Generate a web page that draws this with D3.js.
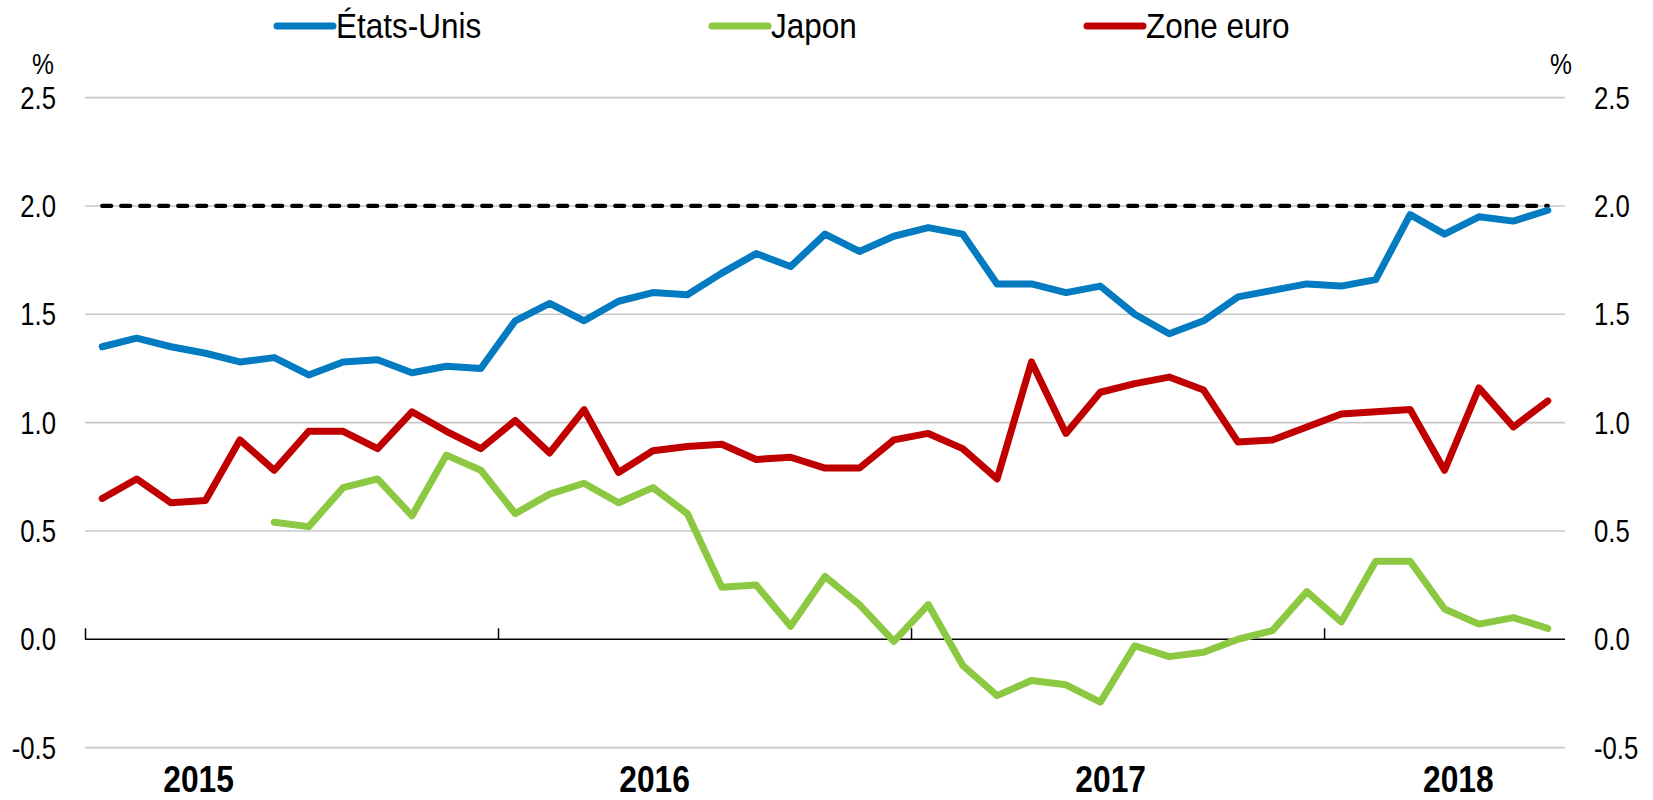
<!DOCTYPE html>
<html>
<head>
<meta charset="utf-8">
<script src="https://cdn.jsdelivr.net/npm/d3@7"></script>
<style>
  body { margin: 0; background: #fff; }
  svg { display: block; font-family: "Liberation Sans", Arial, sans-serif; }
</style>
</head>
<body>
<svg id="chart" width="1653" height="800"></svg>
<script>
// months Jan 2015 .. Jul 2018
var months = d3.timeMonth.range(new Date(2015, 0, 1), new Date(2018, 7, 1));

var etatsUnis = [1.35, 1.39, 1.35, 1.32, 1.28, 1.30, 1.22, 1.28, 1.29, 1.23, 1.26, 1.25,
  1.47, 1.55, 1.47, 1.56, 1.60, 1.59, 1.69, 1.78, 1.72, 1.87, 1.79, 1.86,
  1.90, 1.87, 1.64, 1.64, 1.60, 1.63, 1.50, 1.41, 1.47, 1.58, 1.61, 1.64,
  1.63, 1.66, 1.96, 1.87, 1.95, 1.93, 1.98];

var japon = [null, null, null, null, null, 0.54, 0.52, 0.70, 0.74, 0.57, 0.85, 0.78,
  0.58, 0.67, 0.72, 0.63, 0.70, 0.58, 0.24, 0.25, 0.06, 0.29, 0.16, -0.01,
  0.16, -0.12, -0.26, -0.19, -0.21, -0.29, -0.03, -0.08, -0.06, 0.00, 0.04, 0.22,
  0.08, 0.36, 0.36, 0.14, 0.07, 0.10, 0.05];

var zoneEuro = [0.65, 0.74, 0.63, 0.64, 0.92, 0.78, 0.96, 0.96, 0.88, 1.05, 0.96, 0.88,
  1.01, 0.86, 1.06, 0.77, 0.87, 0.89, 0.90, 0.83, 0.84, 0.79, 0.79, 0.92,
  0.95, 0.88, 0.74, 1.28, 0.95, 1.14, 1.18, 1.21, 1.15, 0.91, 0.92, 0.98,
  1.04, 1.05, 1.06, 0.78, 1.16, 0.98, 1.10];

var cible = 2.0;
var yTicks = [-0.5, 0, 0.5, 1, 1.5, 2, 2.5];
var yearTicks = [0, 12, 24, 36];
var years = ["2015", "2016", "2017", "2018"];
var yearLabelAt = [3.3, 16.55, 29.8, 39.9];

var series = [
  { name: "États-Unis", values: etatsUnis, color: "#037BC1" },
  { name: "Japon", values: japon, color: "#8CC841" },
  { name: "Zone euro", values: zoneEuro, color: "#C00000" }
];

var svg = d3.select("#chart");
var x = d3.scaleLinear().domain([0, months.length]).range([85, 1565]);
var y = d3.scaleLinear().domain([-0.5, 2.5]).range([747.6, 97.6]);

// condensed look: no narrow font installed, so squeeze horizontally
function label(g, px, py, txt, size, anchor, sx, bold) {
  return g.append("text")
    .attr("transform", "translate(" + px + "," + py + ") scale(" + sx + ",1)")
    .attr("text-anchor", anchor || "start")
    .attr("font-size", size)
    .attr("font-weight", bold ? "bold" : null)
    .text(txt);
}

// grid
svg.append("g").selectAll("line")
  .data(yTicks.filter(d => d !== 0)).enter().append("line")
  .attr("x1", x.range()[0]).attr("x2", x.range()[1])
  .attr("y1", d => y(d)).attr("y2", d => y(d))
  .attr("stroke", "#c8c8c8").attr("stroke-width", 1.6);

// y labels, both sides
var fmt = d => d3.format(".1f")(d).replace("\u2212", "-");
var yl = svg.append("g");
yTicks.forEach(function (d) {
  label(yl, 56, y(d) + 11, fmt(d), 31, "end", 0.83);
  label(yl, 1594, y(d) + 11, fmt(d), 31, "start", 0.83);
});
label(yl, 43, 74, "%", 29, "middle", 0.85);
label(yl, 1561, 74, "%", 29, "middle", 0.85);

// zero axis with year ticks
var xAxis = d3.axisBottom(x).tickValues(yearTicks).tickSize(-11).tickFormat("");
svg.append("g").attr("transform", "translate(0," + y(0) + ")").call(xAxis)
  .call(g => g.select(".domain").remove())
  .call(g => g.selectAll(".tick line").attr("stroke", "#000").attr("stroke-width", 1.5));
svg.append("line")
  .attr("x1", x.range()[0]).attr("x2", x.range()[1])
  .attr("y1", y(0)).attr("y2", y(0))
  .attr("stroke", "#000").attr("stroke-width", 1.6);

var xl = svg.append("g");
years.forEach(function (d, i) {
  label(xl, x(yearLabelAt[i]), 792, d, 36.5, "middle", 0.87, true);
});

// target line
svg.append("line")
  .attr("x1", x(0.5)).attr("x2", x(months.length - 0.5))
  .attr("y1", y(cible)).attr("y2", y(cible))
  .attr("stroke", "#000").attr("stroke-width", 4.2)
  .attr("stroke-dasharray", "9,10").attr("stroke-linecap", "round");

var line = d3.line()
  .defined(d => d != null)
  .x((d, i) => x(i + 0.5))
  .y(d => y(d));

svg.append("g").selectAll("path").data(series).enter().append("path")
  .attr("d", d => line(d.values))
  .attr("fill", "none")
  .attr("stroke", d => d.color)
  .attr("stroke-width", 7)
  .attr("stroke-linejoin", "round")
  .attr("stroke-linecap", "round");

// legend
var legendX = [277, 712, 1087];
var lg = svg.append("g");
series.forEach(function (s, i) {
  lg.append("line")
    .attr("x1", legendX[i]).attr("x2", legendX[i] + 56)
    .attr("y1", 26).attr("y2", 26)
    .attr("stroke", s.color).attr("stroke-width", 7).attr("stroke-linecap", "round");
  label(lg, legendX[i] + 59, 38, s.name, 35, "start", 0.9);
});
</script>
</body>
</html>
